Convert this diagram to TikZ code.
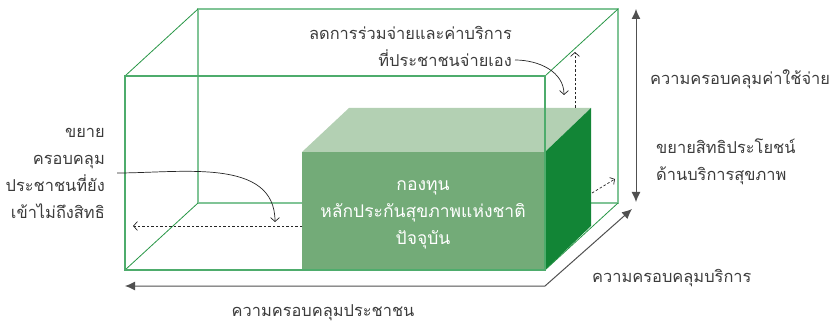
\documentclass[tikz,border=0pt]{standalone}
\usepackage{fontspec}
\newfontfamily\thaifont[Script=Thai]{Loma}
\usetikzlibrary{arrows.meta}
\definecolor{edgegreen}{RGB}{78,172,108}
\definecolor{backgreen}{RGB}{128,196,150}
\definecolor{diaggreen}{RGB}{40,150,70}
\definecolor{frontfill}{RGB}{115,171,120}
\definecolor{topfill}{RGB}{179,208,179}
\definecolor{sidefill}{RGB}{18,133,54}
\definecolor{axisgray}{RGB}{80,80,80}
\definecolor{textgray}{RGB}{60,60,60}
\tikzset{
  lbl/.style={font=\thaifont\fontsize{16.4}{27}\selectfont, text=textgray, inner sep=0pt},
  boxtext/.style={font=\thaifont\fontsize{17.5}{27}\selectfont, text=white, align=center, inner sep=0pt},
  hint/.style={-{Straight Barb[length=4pt,width=9pt]}, black!85, line width=0.7pt},
  dashhint/.style={hint, dash pattern=on 2.5pt off 2pt},
  axis/.style={axisgray, line width=1pt, {Latex[length=10pt,width=9pt]}-{Latex[length=10pt,width=9pt]}},
}
\begin{document}
\begin{tikzpicture}[x=1pt,y=1pt]
		\useasboundingbox (0,0) rectangle (832,324);

		\draw[backgreen,line width=1.5pt] (198,121) rectangle (618,315);
		\draw[diaggreen,line width=0.8pt] (125,248) -- (198,315);
		\draw[diaggreen,line width=0.8pt] (545,248) -- (618,315);
		\draw[diaggreen,line width=0.8pt] (125,54) -- (198,121);
		\draw[diaggreen,line width=0.8pt] (545,54) -- (618,121);

		\fill[topfill] (302,172) -- (349,216) -- (591,216) -- (545,172) -- cycle;
		\fill[sidefill] (545,172) -- (591,216) -- (591,98) -- (545,54) -- cycle;
		\fill[frontfill] (302,54) rectangle (545,172);

		\draw[edgegreen,line width=1.3pt] (125,54) rectangle (545,248);

		\draw[axis] (125,38) -- (545,38) -- (632,115);
		\draw[axis] (636,315) -- (636,122);

		\node[boxtext] (fund) at (423,109) {กองทุน\\หลักประกันสุขภาพแห่งชาติ\\ปัจจุบัน};

		\node[lbl] (popcov) at (323,11) {ความครอบคลุมประชาชน};
		\node[lbl,anchor=west] (servcov) at (592,46) {ความครอบคลุมบริการ};
		\node[lbl,anchor=west] (costcov) at (650,245) {ความครอบคลุมค่าใช้จ่าย};
		\node[lbl,anchor=west,align=left] (benefit) at (656,162) {ขยายสิทธิประโยชน์\\ด้านบริการสุขภาพ};
		\node[lbl,anchor=east,align=right] (widen) at (105,151) {ขยาย\\ครอบคลุม\\ประชาชนที่ยัง\\เข้าไม่ถึงสิทธิ};
		\node[lbl,anchor=east,align=right] (copay) at (512,278) {ลดการร่วมจ่ายและค่าบริการ\\ที่ประชาชนจ่ายเอง};

		\coordinate (boxleft) at (302,98);
		\coordinate (boxtop) at (575,216);
		\coordinate (boxside) at (592,131);
		\coordinate (widentip) at (275,102);
		\coordinate (widenend) at (133,98);
		\coordinate (copaytip) at (564,229);
		\coordinate (costtop) at (575,272);
		\coordinate (servend) at (615,145);

		\draw[hint] ([xshift=12pt]widen.east) to[out=0,in=90] (widentip);
		\draw[dashhint] (boxleft) -- (widenend);
		\draw[hint] ([xshift=3pt,yshift=-14pt]copay.east) to[out=0,in=90] (copaytip);
		\draw[dashhint] (boxtop) -- (costtop);
		\draw[dashhint,-{Straight Barb[length=3.5pt,width=8pt]}] (boxside) -- (servend);
\end{tikzpicture}
\end{document}
